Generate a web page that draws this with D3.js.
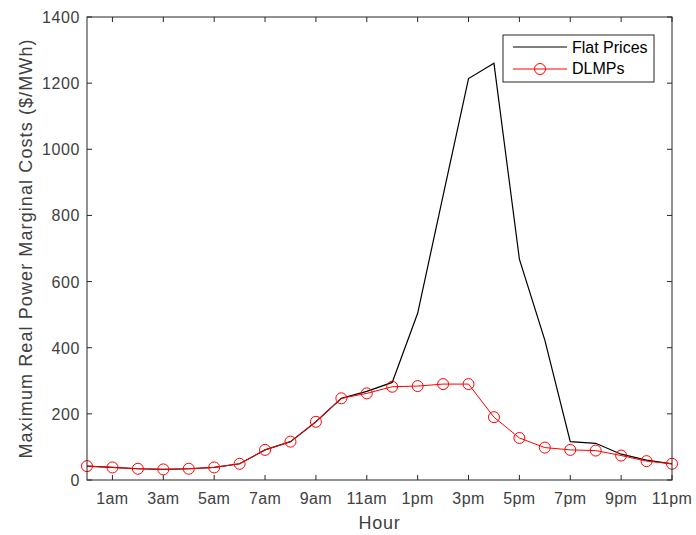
<!DOCTYPE html>
<html>
<head>
<meta charset="utf-8">
<script src="https://cdn.jsdelivr.net/npm/d3@7"></script>
<style>
	body { margin: 0; background: #fff; }
	svg { font-family: "Liberation Sans", Arial, sans-serif; }
</style>
</head>
<body>
<script>
let hours = d3.range(0, 24)
let tickHours = [1, 3, 5, 7, 9, 11, 13, 15, 17, 19, 21, 23]
let tickLabels = ['1am', '3am', '5am', '7am', '9am', '11am', '1pm', '3pm', '5pm', '7pm', '9pm', '11pm']
let yTicks = [0, 200, 400, 600, 800, 1000, 1200, 1400]

let flatPrices = [42, 38, 34, 32, 34, 38, 49, 91, 116, 176, 247, 268, 295, 504, 860, 1214, 1260, 668, 423, 116, 111, 78, 60, 49]
let dlmps = [42, 38, 34, 32, 34, 38, 49, 91, 116, 176, 247, 262, 282, 284, 290, 290, 190, 127, 98, 91, 89, 74, 57, 49]

let W = 696, H = 535
let pLeft = 87, pRight = 672, pTop = 17, pBottom = 480

let svg = d3.select('body').append('svg')
	.attr('width', W).attr('height', H)

let x = d3.scaleLinear().domain([0, 23]).range([pLeft, pRight])
let y = d3.scaleLinear().domain([0, 1400]).range([pBottom, pTop])

let axisColor = '#262626'
let labelColor = '#404040'
let tickLen = 5

// ticks on all four sides, pointing in
let g = svg.append('g')
for (let h of tickHours) {
	g.append('line').attr('x1', x(h)).attr('x2', x(h)).attr('y1', pBottom).attr('y2', pBottom - tickLen)
		.attr('stroke', axisColor)
	g.append('line').attr('x1', x(h)).attr('x2', x(h)).attr('y1', pTop).attr('y2', pTop + tickLen)
		.attr('stroke', axisColor)
}
for (let v of yTicks) {
	g.append('line').attr('x1', pLeft).attr('x2', pLeft + tickLen).attr('y1', y(v)).attr('y2', y(v))
		.attr('stroke', axisColor)
	g.append('line').attr('x1', pRight).attr('x2', pRight - tickLen).attr('y1', y(v)).attr('y2', y(v))
		.attr('stroke', axisColor)
}

g.selectAll('text.xt').data(tickHours).enter().append('text')
	.attr('class', 'xt')
	.attr('x', d => x(d)).attr('y', pBottom + 24)
	.attr('text-anchor', 'middle')
	.attr('font-size', 16).attr('letter-spacing', 0.4).attr('fill', labelColor)
	.text((d, i) => tickLabels[i])

g.selectAll('text.yt').data(yTicks).enter().append('text')
	.attr('class', 'yt')
	.attr('x', pLeft - 7).attr('y', d => y(d) + 6)
	.attr('text-anchor', 'end')
	.attr('font-size', 16).attr('letter-spacing', 0.6).attr('fill', labelColor)
	.text(d => d)

svg.append('text')
	.attr('x', (pLeft + pRight) / 2).attr('y', 529)
	.attr('text-anchor', 'middle')
	.attr('font-size', 18).attr('letter-spacing', 0.8).attr('fill', labelColor)
	.text('Hour')

svg.append('text')
	.attr('transform', `translate(32, ${(pTop + pBottom) / 2}) rotate(-90)`)
	.attr('text-anchor', 'middle')
	.attr('font-size', 18).attr('letter-spacing', 1.1).attr('fill', labelColor)
	.text('Maximum Real Power Marginal Costs ($/MWh)')

let line = d3.line().x((d, i) => x(hours[i])).y(d => y(d))

svg.append('path').datum(flatPrices)
	.attr('d', line)
	.attr('fill', 'none').attr('stroke', '#000').attr('stroke-width', 1.2)

svg.append('path').datum(dlmps)
	.attr('d', line)
	.attr('fill', 'none').attr('stroke', '#ff0000').attr('stroke-width', 1)

svg.selectAll('circle.dl').data(dlmps).enter().append('circle')
	.attr('class', 'dl')
	.attr('cx', (d, i) => x(hours[i])).attr('cy', d => y(d))
	.attr('r', 5.5)
	.attr('fill', 'none').attr('stroke', '#ff0000').attr('stroke-width', 1)

// frame
svg.append('rect')
	.attr('x', pLeft).attr('y', pTop)
	.attr('width', pRight - pLeft).attr('height', pBottom - pTop)
	.attr('fill', 'none').attr('stroke', axisColor).attr('stroke-width', 1)

// legend
let lg = svg.append('g')
lg.append('rect')
	.attr('x', 503).attr('y', 35).attr('width', 151).attr('height', 47)
	.attr('fill', '#fff').attr('stroke', axisColor)
lg.append('line').attr('x1', 513).attr('x2', 567).attr('y1', 47).attr('y2', 47)
	.attr('stroke', '#000')
lg.append('text').attr('x', 572).attr('y', 53)
	.attr('font-size', 16).attr('fill', '#000').text('Flat Prices')
lg.append('line').attr('x1', 513).attr('x2', 567).attr('y1', 69).attr('y2', 69)
	.attr('stroke', '#ff0000')
lg.append('circle').attr('cx', 540).attr('cy', 69).attr('r', 5.5)
	.attr('fill', 'none').attr('stroke', '#ff0000')
lg.append('text').attr('x', 572).attr('y', 74)
	.attr('font-size', 16).attr('fill', '#000').text('DLMPs')
</script>
</body>
</html>
